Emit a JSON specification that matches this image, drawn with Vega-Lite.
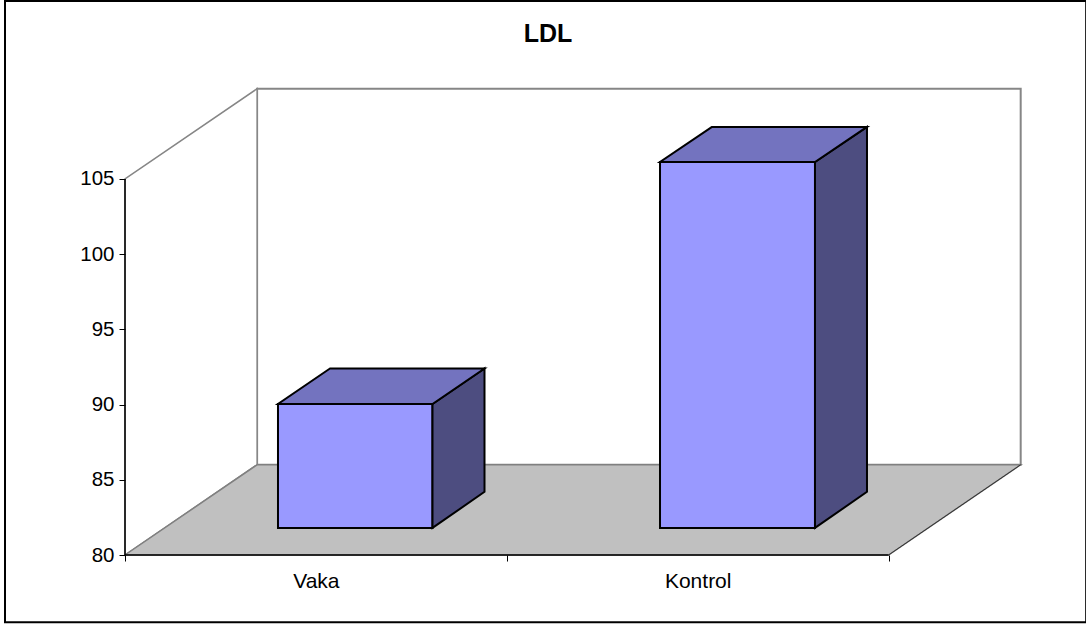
{
  "$schema": "https://vega.github.io/schema/vega-lite/v6.json",
  "autosize": "none",
  "width": 896,
  "height": 467,
  "padding": {"left": 125, "top": 88, "right": 65, "bottom": 70},
  "background": "white",
  "config": {"view": {"stroke": null}, "font": "Liberation Sans"},
  "title": {"text": "LDL", "anchor": "middle", "dx": -25, "offset": -67, "baseline": "alphabetic", "fontSize": 25, "fontWeight": "bold", "color": "black", "font": "Liberation Sans"},
  "datasets": {
    "frame": [{"x": -0.3143, "x2": 2.5175, "y": 75.53, "y2": 116.83}],
    "backWall": [{"x": 0.346, "x2": 2.346, "y": 86, "y2": 111}],
    "sideWall": [
      {"x": 0, "y": 80, "y2": 105},
      {"x": 0.346, "y": 86, "y2": 111}
    ],
    "floor": [
      {"y": 80, "x": 0, "x2": 2},
      {"y": 86, "x": 0.346, "x2": 2.346}
    ],
    "floorEdge": [
      {"x": 2, "y": 80},
      {"x": 2.346, "y": 86}
    ],
    "axisLines": [
      {"x": 0, "x2": 0, "y": 80, "y2": 105},
      {"x": 0, "x2": 2, "y": 80, "y2": 80}
    ],
    "barFront": [
      {"bar": "Vaka", "x": 0.4007, "x2": 0.8054, "y": 81.8, "y2": 90.04},
      {"bar": "Kontrol", "x": 1.4013, "x2": 1.8072, "y": 81.8, "y2": 106.13}
    ],
    "barSide": [
      {"bar": "Vaka", "x": 0.8054, "y": 81.8, "y2": 90.04},
      {"bar": "Vaka", "x": 0.9416, "y": 84.2, "y2": 92.4},
      {"bar": "Kontrol", "x": 1.8072, "y": 81.8, "y2": 106.13},
      {"bar": "Kontrol", "x": 1.9434, "y": 84.2, "y2": 108.46}
    ],
    "barTop": [
      {"bar": "Vaka", "y": 90.04, "x": 0.4007, "x2": 0.8054},
      {"bar": "Vaka", "y": 92.4, "x": 0.5369, "x2": 0.9416},
      {"bar": "Kontrol", "y": 106.13, "x": 1.4013, "x2": 1.8072},
      {"bar": "Kontrol", "y": 108.46, "x": 1.5375, "x2": 1.9434}
    ]
  },
  "encoding": {
    "x": {
      "field": "x",
      "type": "quantitative",
      "title": null,
      "scale": {"domain": [0, 2.3468], "nice": false, "zero": false},
      "axis": {
        "zindex": 1,
        "values": [0, 0.5, 1, 1.5, 2],
        "grid": false,
        "domain": false,
        "tickColor": "black",
        "tickSize": 6,
        "tickOpacity": {"condition": {"test": "datum.value === 0.5 || datum.value === 1.5", "value": 0}, "value": 1},
        "labelExpr": "datum.value === 0.5 ? 'Vaka' : datum.value === 1.5 ? 'Kontrol' : ''",
        "labelFontSize": 21,
        "labelColor": "black",
        "labelPadding": 9,
        "labelOverlap": false,
        "labelBound": false,
        "labelFlush": false
      }
    },
    "y": {
      "field": "y",
      "type": "quantitative",
      "title": null,
      "scale": {"domain": [80, 111.05], "nice": false, "zero": false},
      "axis": {
        "zindex": 1,
        "values": [80, 85, 90, 95, 100, 105],
        "grid": false,
        "domain": false,
        "tickColor": "black",
        "tickSize": 6,
        "labelFontSize": 20.5,
        "labelColor": "black",
        "labelPadding": 5,
        "labelOverlap": false,
        "labelBound": false
      }
    }
  },
  "layer": [
    {
      "data": {"name": "frame"},
      "mark": {"type": "rect", "fill": "white", "stroke": "black", "strokeWidth": 2, "clip": false},
      "encoding": {"x2": {"field": "x2"}, "y2": {"field": "y2"}}
    },
    {
      "data": {"name": "backWall"},
      "mark": {"type": "rect", "fill": "white", "stroke": "#868686", "strokeWidth": 2},
      "encoding": {"x2": {"field": "x2"}, "y2": {"field": "y2"}}
    },
    {
      "data": {"name": "sideWall"},
      "mark": {"type": "area", "fill": "white", "stroke": "#868686", "strokeWidth": 1.5},
      "encoding": {"y2": {"field": "y2"}}
    },
    {
      "data": {"name": "floor"},
      "mark": {"type": "area", "orient": "horizontal", "fill": "#C0C0C0", "stroke": "#808080", "strokeWidth": 1.5},
      "encoding": {"x2": {"field": "x2"}}
    },
    {
      "data": {"name": "floorEdge"},
      "mark": {"type": "line", "color": "#333333", "strokeWidth": 1}
    },
    {
      "data": {"name": "axisLines"},
      "mark": {"type": "rule", "color": "black", "strokeWidth": 1.5},
      "encoding": {"x2": {"field": "x2"}, "y2": {"field": "y2"}}
    },
    {
      "data": {"name": "barFront"},
      "mark": {"type": "rect", "fill": "#9999FF", "stroke": "black", "strokeWidth": 2},
      "encoding": {"x2": {"field": "x2"}, "y2": {"field": "y2"}}
    },
    {
      "data": {"name": "barSide"},
      "mark": {"type": "area", "fill": "#4D4D80", "stroke": "black", "strokeWidth": 2},
      "encoding": {"y2": {"field": "y2"}, "detail": {"field": "bar"}}
    },
    {
      "data": {"name": "barTop"},
      "mark": {"type": "area", "orient": "horizontal", "fill": "#7373BF", "stroke": "black", "strokeWidth": 2},
      "encoding": {"x2": {"field": "x2"}, "detail": {"field": "bar"}}
    }
  ]
}
